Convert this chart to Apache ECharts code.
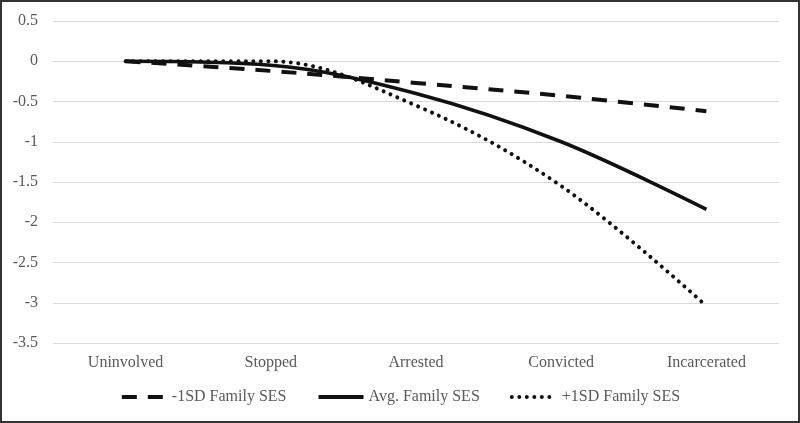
<!DOCTYPE html>
<html>
<head>
<meta charset="utf-8">
<script src="https://cdn.jsdelivr.net/npm/echarts@6/dist/echarts.min.js"></script>
<style>
html,body{margin:0;padding:0;background:#fff;}
#c{width:800px;height:423px;}
</style>
</head>
<body>
<div id="c"></div>
<script>
var categories = ['Uninvolved', 'Stopped', 'Arrested', 'Convicted', 'Incarcerated'];
var lowSES = [0, -0.12, -0.27, -0.43, -0.62];
var avgSES = [0, -0.05, -0.40, -1.00, -1.84];
var highSES = [0, 0.0, -0.55, -1.55, -3.04];
var seriesNames = ['-1SD Family SES', 'Avg. Family SES', '+1SD Family SES'];
var yTicks = { min: -3.5, max: 0.5, interval: 0.5 };

var chart = echarts.init(document.getElementById('c'), null, { renderer: 'canvas' });
var font = '"Liberation Serif", "Times New Roman", serif';
var txt = '#595959';
var SMOOTH = 0.35;
chart.setOption({
  animation: false,
  backgroundColor: '#fff',
  grid: { left: 53, right: 21, top: 21, bottom: 80, containLabel: false },
  xAxis: {
    type: 'category',
    data: categories,
    boundaryGap: true,
    axisLine: { show: true, lineStyle: { color: '#d9d9d9', width: 1 } },
    axisTick: { show: false },
    axisLabel: { color: txt, fontFamily: font, fontSize: 16, margin: 12 }
  },
  yAxis: {
    type: 'value',
    min: yTicks.min, max: yTicks.max, interval: yTicks.interval,
    axisLine: { show: false },
    axisTick: { show: false },
    splitLine: { lineStyle: { color: '#d9d9d9', width: 1 } },
    axisLabel: { color: txt, fontFamily: font, fontSize: 16, margin: 15 }
  },
  legend: {
    bottom: 13,
    left: 'center',
    itemWidth: 45,
    itemHeight: 10,
    itemGap: 30,
    itemStyle: { opacity: 0, borderWidth: 0 },
    lineStyle: { width: 4 },
    textStyle: { color: txt, fontFamily: font, fontSize: 16 },
    data: seriesNames
  },
  graphic: [{
    type: 'rect',
    shape: { x: 1, y: 1, width: 798, height: 421 },
    style: { fill: 'none', stroke: '#333', lineWidth: 2 },
    silent: true
  }],
  series: [
    {
      name: seriesNames[0], type: 'line', data: lowSES, smooth: SMOOTH, symbol: 'none',
      lineStyle: { color: '#111', width: 4, type: [15, 11], cap: 'butt' },
      itemStyle: { color: '#111' }
    },
    {
      name: seriesNames[1], type: 'line', data: avgSES, smooth: SMOOTH, symbol: 'none',
      lineStyle: { color: '#111', width: 3.5, type: 'solid' },
      itemStyle: { color: '#111' }
    },
    {
      name: seriesNames[2], type: 'line', data: highSES, smooth: SMOOTH, symbol: 'none',
      lineStyle: { color: '#111', width: 4, type: [0.01, 7.5], cap: 'round' },
      itemStyle: { color: '#111' }
    }
  ]
});
</script>
</body>
</html>
